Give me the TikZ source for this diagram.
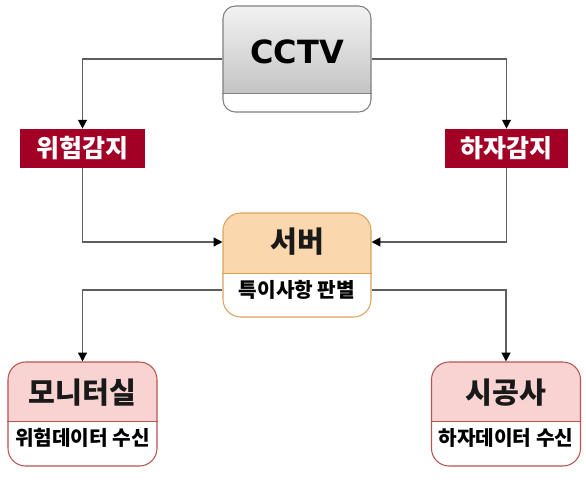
\documentclass[tikz,border=0pt]{standalone}
\usepackage{fontspec}
\usepackage{xcolor}
\usepackage{tikz}
\usetikzlibrary{arrows.meta}

\newfontfamily\krfont{Noto Sans CJK KR}
\newfontfamily\cctvfont{DejaVu Sans}

\definecolor{alertred}{HTML}{A20025}
\definecolor{servfill}{HTML}{FAD7AC}
\definecolor{servline}{HTML}{D9A35E}
\definecolor{roomfill}{HTML}{F8D3D1}
\definecolor{roomline}{HTML}{B85450}
\definecolor{camline}{HTML}{7F7F7F}
\definecolor{wiregray}{HTML}{5E5E5E}

\begin{document}
\begin{tikzpicture}[
    card/.style={draw, rounded corners=10pt, fill=white, line width=0.6pt},
    alert/.style={fill=alertred, text=white, minimum height=0.78cm, font=\krfont\bfseries\fontsize{14.2}{16}\selectfont},
    ttl/.style={text=black!90, font=\krfont\bfseries\fontsize{16.6}{19}\selectfont},
    subtxt/.style={font=\krfont\bfseries\fontsize{11.5}{13}\selectfont},
    wire/.style={draw=wiregray, line width=0.8pt},
    arr/.style={wire, -{Triangle[length=5pt,width=5pt,color=black]}},
]
\useasboundingbox (0,0) rectangle (11.72,-9.78);

% ---- CCTV ----
\node[card, draw=camline, rounded corners=7pt, minimum width=2.96cm, minimum height=2.12cm,
    path picture={\shade[sharp corners, top color=black!5, bottom color=black!27]
        (path picture bounding box.north west) rectangle ([yshift=0.38cm]path picture bounding box.south east);}]
    (cctv) at (5.94,-1.18) {};
\draw[camline, line width=0.6pt] ([yshift=0.38cm]cctv.south west) -- ([yshift=0.38cm]cctv.south east);
\node[font=\cctvfont\bfseries\fontsize{18.2}{21}\selectfont] (cctvTtl) at (5.94,-1.04) {CCTV};

% ---- Détection ----
\node[alert, minimum width=2.5cm] (risk) at (1.65,-2.97) {위험감지};
\node[alert, minimum width=2.46cm] (defect) at (10.13,-2.97) {하자감지};

% ---- Serveur ----
\node[card, draw=servline, minimum width=2.96cm, minimum height=2.08cm,
    path picture={\fill[sharp corners, servfill]
        (path picture bounding box.north west) rectangle ([yshift=0.88cm]path picture bounding box.south east);}]
    (srv) at (5.94,-5.3) {};
\draw[servline, line width=0.6pt] ([yshift=0.88cm]srv.south west) -- ([yshift=0.88cm]srv.south east);
\node[ttl] (srvTtl) at (5.94,-4.84) {서버};
\node[subtxt] (srvSub) at (5.94,-5.8) {특이사항 판별};

% ---- Destinataires ----
\foreach \nm/\x/\ttltxt/\subline in {mon/1.65/모니터실/위험데이터 수신, site/10.12/시공사/하자데이터 수신} {
    \node[card, draw=roomline, minimum width=2.98cm, minimum height=2.08cm,
        path picture={\fill[sharp corners, roomfill]
            (path picture bounding box.north west) rectangle ([yshift=0.9cm]path picture bounding box.south east);}]
        (\nm) at (\x,-8.28) {};
    \draw[roomline, line width=0.6pt] ([yshift=0.9cm]\nm.south west) -- ([yshift=0.9cm]\nm.south east);
    \node[ttl] (\nm Ttl) at (\x,-7.86) {\ttltxt};
    \node[subtxt] (\nm Sub) at (\x,-8.76) {\subline};
}

% ---- Liaisons ----
\draw[arr] (cctv.west) -| (risk.north);
\draw[arr] (cctv.east) -| (defect.north);
\draw[arr] (risk.south) |- (srvTtl -| srv.west);
\draw[arr] (defect.south) |- (srvTtl -| srv.east);
\draw[arr] (srvSub -| srv.west) -| (mon.north);
\draw[arr] (srvSub -| srv.east) -| (site.north);

\end{tikzpicture}
\end{document}
